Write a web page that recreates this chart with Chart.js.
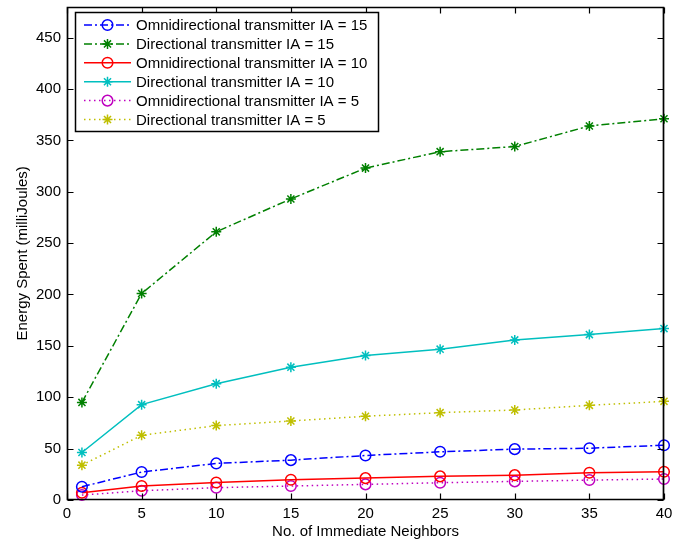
<!DOCTYPE html>
<html><head><meta charset="utf-8">
<script src="https://cdn.jsdelivr.net/npm/chart.js@4.4.0/dist/chart.umd.min.js"></script>
<style>html,body{margin:0;padding:0;background:#fff;}canvas{display:block;}</style>
</head><body>
<canvas id="c" width="673" height="546"></canvas>
<script>
const neighbors = [1, 5, 10, 15, 20, 25, 30, 35, 40];
const omniIA15 = [12.9, 27.2, 35.6, 38.8, 43.3, 46.9, 49.5, 50.4, 53.3];
const dirIA15  = [95, 201, 261, 293, 323, 339, 344, 364, 371];
const omniIA10 = [7.1, 13.6, 17.1, 19.7, 21.3, 23.0, 24.2, 26.5, 27.5];
const dirIA10  = [46.2, 92.8, 113.2, 129.3, 140.6, 146.8, 155.8, 161.0, 166.8];
const omniIA5  = [4.8, 9.0, 12.0, 13.6, 15.2, 16.8, 18.1, 19.4, 20.4];
const dirIA5   = [33.9, 63.0, 72.4, 76.9, 81.5, 85.0, 87.6, 92.1, 96.0];
const seriesLabels = [
  'Omnidirectional transmitter IA = 15',
  'Directional transmitter IA = 15',
  'Omnidirectional transmitter IA = 10',
  'Directional transmitter IA = 10',
  'Omnidirectional transmitter IA = 5',
  'Directional transmitter IA = 5'
];
const xTicks = [0, 5, 10, 15, 20, 25, 30, 35, 40];
const yTicks = [0, 50, 100, 150, 200, 250, 300, 350, 400, 450];
const xTitle = 'No. of Immediate Neighbors';
const yTitle = 'Energy Spent (milliJoules)';

const seriesValues = [omniIA15, dirIA15, omniIA10, dirIA10, omniIA5, dirIA5];
const DASHDOT = [8, 3, 2, 3], DOT = [1.5, 3.5], SOLID = [];
const styles = [
  {color: '#0000FF', dash: DASHDOT, marker: 'circle'},
  {color: '#008000', dash: DASHDOT, marker: 'star'},
  {color: '#FF0000', dash: SOLID, marker: 'circle'},
  {color: '#00BFBF', dash: SOLID, marker: 'star'},
  {color: '#BF00BF', dash: DOT, marker: 'circle'},
  {color: '#BFBF00', dash: DOT, marker: 'star'}
];
const FONT = '"Liberation Sans", Arial, Helvetica, sans-serif';
const LW = 1.5;

const datasets = seriesValues.map((vals, i) => ({
  label: seriesLabels[i],
  data: neighbors.map((n, j) => ({x: n, y: vals[j]})),
  borderColor: styles[i].color,
  backgroundColor: 'rgba(0,0,0,0)',
  borderWidth: LW,
  borderDash: styles[i].dash,
  pointStyle: styles[i].marker,
  pointRadius: styles[i].marker === 'circle' ? 5.3 : 5,
  pointBorderWidth: LW,
  pointBorderColor: styles[i].color,
  pointBackgroundColor: 'rgba(0,0,0,0)',
  tension: 0,
  clip: false
}));

function drawMarker(ctx, type, x, y, color) {
  ctx.save();
  ctx.strokeStyle = color; ctx.lineWidth = LW; ctx.setLineDash([]);
  ctx.beginPath();
  if (type === 'circle') {
    ctx.arc(x, y, 5.3, 0, Math.PI * 2);
  } else {
    const r = 5, d = r * Math.SQRT1_2;
    ctx.moveTo(x - r, y); ctx.lineTo(x + r, y);
    ctx.moveTo(x, y - r); ctx.lineTo(x, y + r);
    ctx.moveTo(x - d, y - d); ctx.lineTo(x + d, y + d);
    ctx.moveTo(x - d, y + d); ctx.lineTo(x + d, y - d);
  }
  ctx.stroke();
  ctx.restore();
}

const framePlugin = {
  id: 'frame',
  afterDatasetsDraw(chart) {
    const {ctx, chartArea: a, scales: {x, y}} = chart;
    const L = Math.round(a.left) + 0.5, R = Math.round(a.right) - 0.5;
    const T = Math.round(a.top) + 0.5, B = Math.round(a.bottom) - 0.5;
    ctx.save();
    ctx.strokeStyle = '#000'; ctx.lineWidth = 1.7; ctx.setLineDash([]);
    ctx.beginPath();
    ctx.rect(L, T, R - L, B - T);
    ctx.stroke();
    ctx.lineWidth = 1.2;
    ctx.beginPath();
    x.ticks.forEach(t => {
      const px = Math.round(x.getPixelForValue(t.value)) + 0.5;
      ctx.moveTo(px, B); ctx.lineTo(px, B - 6);
      ctx.moveTo(px, T); ctx.lineTo(px, T + 6);
    });
    y.ticks.forEach(t => {
      const py = Math.round(y.getPixelForValue(t.value)) + 0.5;
      ctx.moveTo(L, py); ctx.lineTo(L + 6, py);
      ctx.moveTo(R, py); ctx.lineTo(R - 6, py);
    });
    ctx.stroke();
    ctx.restore();
  },
  afterDraw(chart) {
    const ctx = chart.ctx;
    const bx = 75.5, by = 12.5, bw = 303, bh = 119;
    ctx.save();
    ctx.fillStyle = '#fff';
    ctx.fillRect(bx, by, bw, bh);
    ctx.strokeStyle = '#000'; ctx.lineWidth = 1.5; ctx.setLineDash([]);
    ctx.strokeRect(bx, by, bw, bh);
    ctx.font = '15px ' + FONT;
    ctx.textBaseline = 'middle';
    ctx.fillStyle = '#000';
    chart.data.datasets.forEach((ds, i) => {
      const ry = 25 + i * 18.9;
      ctx.save();
      ctx.strokeStyle = ds.borderColor; ctx.lineWidth = LW;
      ctx.setLineDash(ds.borderDash);
      ctx.beginPath(); ctx.moveTo(84, ry); ctx.lineTo(131, ry); ctx.stroke();
      ctx.restore();
      drawMarker(ctx, ds.pointStyle, 107.5, ry, ds.borderColor);
      ctx.fillText(ds.label, 136, ry + 1);
    });
    ctx.restore();
  }
};

function noPad(s) { s.paddingLeft = 0; s.paddingRight = 0; s.paddingTop = 0; s.paddingBottom = 0; }

new Chart(document.getElementById('c'), {
  type: 'line',
  data: {datasets},
  options: {
    responsive: false,
    animation: false,
    devicePixelRatio: 1,
    layout: {padding: {top: 5, right: 9, left: 0, bottom: 0}},
    plugins: {legend: {display: false}, tooltip: {enabled: false}},
    scales: {
      x: {
        type: 'linear', min: 0, max: 40,
        afterBuildTicks: s => { s.ticks = xTicks.map(v => ({value: v})); },
        afterFit: s => { s.height = 46; noPad(s); },
        grid: {display: false, drawTicks: false},
        border: {display: false},
        ticks: {color: '#000', font: {size: 15, family: FONT}, padding: 5, maxRotation: 0, autoSkip: false},
        title: {display: true, text: xTitle, color: '#000', font: {size: 15, family: FONT}, padding: {top: 0, bottom: 5}}
      },
      y: {
        type: 'linear', min: 0, max: 480,
        afterBuildTicks: s => { s.ticks = yTicks.map(v => ({value: v})); },
        afterFit: s => { s.width = 67; noPad(s); },
        grid: {display: false, drawTicks: false},
        border: {display: false},
        ticks: {color: '#000', font: {size: 15, family: FONT}, padding: 6, autoSkip: false},
        title: {display: true, text: yTitle, color: '#000', font: {size: 15, family: FONT}, padding: {top: 14, bottom: 0}}
      }
    }
  },
  plugins: [framePlugin]
});
</script>
</body></html>
